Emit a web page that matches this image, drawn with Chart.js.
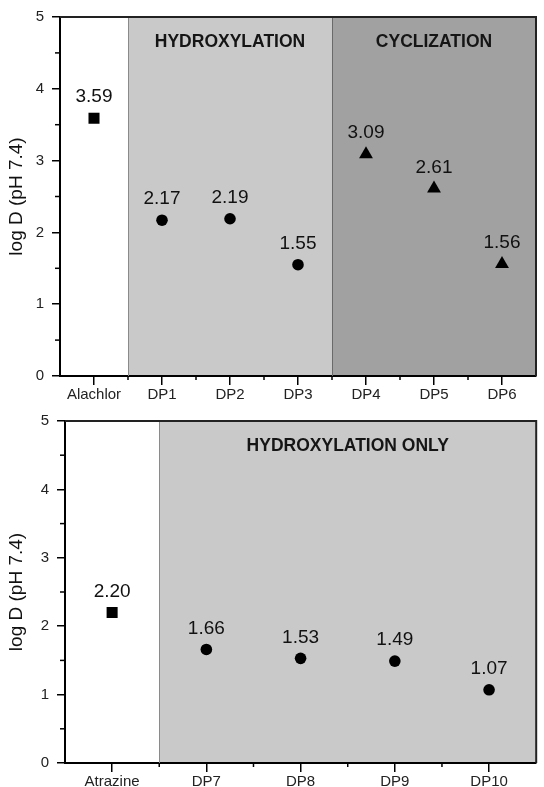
<!DOCTYPE html>
<html><head><meta charset="utf-8">
<script src="https://cdn.jsdelivr.net/npm/chart.js@4.4.1/dist/chart.umd.min.js"></script>
<style>
html,body{margin:0;padding:0;background:#fff;width:544px;height:787px;overflow:hidden}
canvas{position:absolute;left:0}
#c1{top:0}
#c2{top:404px}
</style></head><body>
<canvas id="c1" width="544" height="404"></canvas>
<canvas id="c2" width="544" height="383"></canvas>
<script>
// ---- data ----
const topCategories = ['Alachlor', 'DP1', 'DP2', 'DP3', 'DP4', 'DP5', 'DP6'];
const topValues = [3.59, 2.17, 2.19, 1.55, 3.09, 2.61, 1.56];
const topMarkers = ['rect', 'circle', 'circle', 'circle', 'triangle', 'triangle', 'triangle'];
const topRegionLabels = ['HYDROXYLATION', 'CYCLIZATION'];
const topRegionFirst = [1, 4];
const topRegionLast = [3, 6];

const bottomCategories = ['Atrazine', 'DP7', 'DP8', 'DP9', 'DP10'];
const bottomValues = [2.20, 1.66, 1.53, 1.49, 1.07];
const bottomMarkers = ['rect', 'circle', 'circle', 'circle', 'circle'];
const bottomRegionLabels = ['HYDROXYLATION ONLY'];
const bottomRegionFirst = [1];
const bottomRegionLast = [4];

const yAxisTitle = 'log D (pH 7.4)';
const yMin = 0, yMax = 5, yStep = 1;

// ---- styles ----
const FONT = "'Liberation Sans', Arial, sans-serif";
const RADIUS = {rect: 7.8, circle: 5.8, triangle: 8};
const REGION_COLORS = ['#c9c9c9', '#a1a1a1'];

function decorPlugin(values, labels, first, last) {
  return {
    id: 'decor',
    beforeDraw(chart) {
      const {ctx, chartArea: a, scales: {x}} = chart;
      const half = (x.getPixelForValue(1) - x.getPixelForValue(0)) / 2;
      ctx.save();
      labels.forEach((l, i) => {
        const x0 = x.getPixelForValue(first[i]) - half;
        const x1 = x.getPixelForValue(last[i]) + half;
        ctx.fillStyle = REGION_COLORS[i];
        ctx.fillRect(x0, a.top, x1 - x0, a.bottom - a.top);
      });
      ctx.restore();
    },
    beforeDatasetsDraw(chart) {
      const {ctx, chartArea: a, scales: {x, y}} = chart;
      const half = (x.getPixelForValue(1) - x.getPixelForValue(0)) / 2;
      ctx.save();
      labels.forEach((l, i) => {
        const x0 = x.getPixelForValue(first[i]) - half;
        const x1 = x.getPixelForValue(last[i]) + half;
        ctx.strokeStyle = i === 0 ? '#8a8a8a' : '#6a6a6a';
        ctx.lineWidth = 1;
        ctx.beginPath(); ctx.moveTo(Math.round(x0) + 0.5, a.top); ctx.lineTo(Math.round(x0) + 0.5, a.bottom); ctx.stroke();
        ctx.fillStyle = '#151515';
        ctx.font = 'bold 17.5px ' + FONT;
        ctx.textAlign = 'center';
        ctx.textBaseline = 'middle';
        ctx.fillText(l, (x0 + x1) / 2, a.top + 25);
      });
      ctx.strokeStyle = '#222';
      ctx.lineWidth = 2;
      ctx.beginPath();
      ctx.moveTo(a.left, a.top); ctx.lineTo(a.right, a.top); ctx.lineTo(a.right, a.bottom);
      ctx.stroke();
      ctx.strokeStyle = '#000';
      ctx.lineWidth = 1.5;
      for (let v = yMin + yStep / 2; v < yMax; v += yStep) {
        const py = y.getPixelForValue(v);
        ctx.beginPath(); ctx.moveTo(a.left - 5, py); ctx.lineTo(a.left, py); ctx.stroke();
      }
      for (let i = 0; i < values.length - 1; i++) {
        const px = x.getPixelForValue(i) + half;
        ctx.beginPath(); ctx.moveTo(px, a.bottom); ctx.lineTo(px, a.bottom + 4); ctx.stroke();
      }
      ctx.restore();
    },
    afterDatasetsDraw(chart) {
      const {ctx, scales: {x, y}} = chart;
      ctx.save();
      ctx.fillStyle = '#111';
      ctx.font = '19px ' + FONT;
      ctx.textAlign = 'center';
      ctx.textBaseline = 'middle';
      values.forEach((v, i) => {
        ctx.fillText(v.toFixed(2), x.getPixelForValue(i), y.getPixelForValue(v) - 21);
      });
      ctx.restore();
    }
  };
}

function makeChart(id, cats, vals, markers, rl, rf, rlast, lay) {
  return new Chart(document.getElementById(id), {
    type: 'line',
    data: {
      labels: cats,
      datasets: [{
        data: vals,
        showLine: false,
        pointStyle: markers,
        pointRadius: markers.map(m => RADIUS[m]),
        pointBackgroundColor: '#000',
        pointBorderColor: '#000',
        pointBorderWidth: 0
      }]
    },
    options: {
      responsive: false,
      animation: false,
      events: [],
      layout: {padding: {top: lay.top, right: lay.right, left: 0, bottom: 0}},
      plugins: {legend: {display: false}, tooltip: {enabled: false}},
      scales: {
        x: {
          type: 'category',
          offset: true,
          grid: {offset: false, drawOnChartArea: false, tickLength: 9, color: '#000', lineWidth: 1.5},
          border: {color: '#000', width: 2},
          ticks: {font: {family: FONT, size: 15}, color: '#222', padding: 1, maxRotation: 0, autoSkip: false},
          afterFit(s) { s.height = lay.xh; }
        },
        y: {
          min: yMin, max: yMax,
          ticks: {stepSize: yStep, font: {family: FONT, size: 15}, color: '#222', padding: 8},
          grid: {drawOnChartArea: false, tickLength: 8, color: '#000', lineWidth: 1.5},
          border: {color: '#000', width: 2},
          title: {display: true, text: yAxisTitle, font: {family: FONT, size: 19}, color: '#111', padding: {top: 5, bottom: 0}},
          afterFit(s) { s.width = lay.yw; }
        }
      }
    },
    plugins: [decorPlugin(vals, rl, rf, rlast)]
  });
}

makeChart('c1', topCategories, topValues, topMarkers, topRegionLabels, topRegionFirst, topRegionLast,
  {top: 17, right: 1, xh: 28, yw: 60});
makeChart('c2', bottomCategories, bottomValues, bottomMarkers, bottomRegionLabels, bottomRegionFirst, bottomRegionLast,
  {top: 8, right: 3, xh: 24, yw: 65});
</script>
</body></html>
